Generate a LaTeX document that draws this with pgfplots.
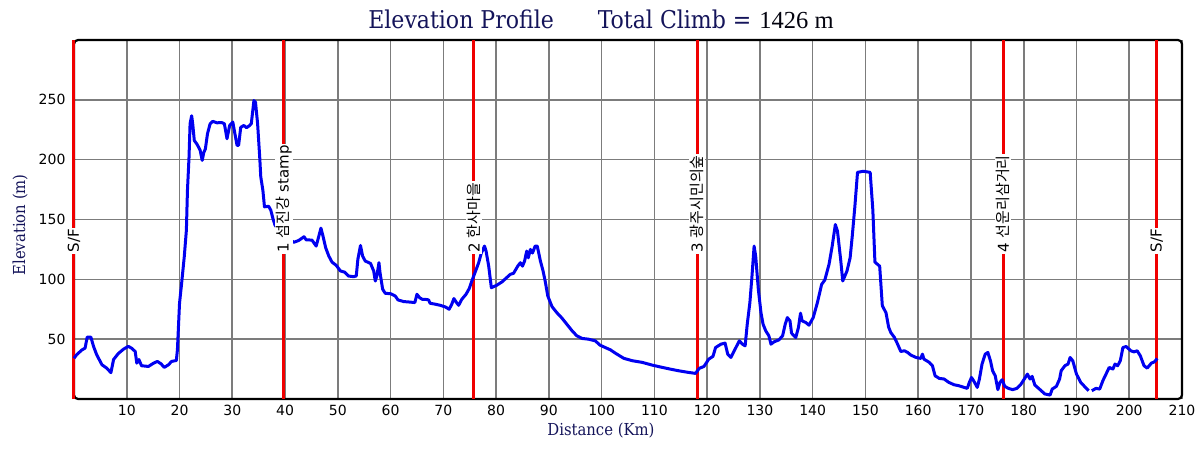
\documentclass[border=0pt]{standalone}
\usepackage{fontspec}
\usepackage{pgfplots}
\pgfplotsset{compat=1.18}
\setmainfont{DejaVu Sans}
\newfontfamily\titlefont{DejaVu Serif Condensed}
\newfontfamily\timesfont{Liberation Serif}
\newfontfamily\kr{Noto Sans CJK KR}
\definecolor{navy}{HTML}{14145A}
\definecolor{gridgray}{HTML}{7C7C7C}
\definecolor{curveblue}{HTML}{0000F0}
\definecolor{markred}{HTML}{F00000}

\pgfplotstableread{
km elev
0 34
0.5 37
1.5 41
2.1 42.5
2.5 51.7
3.2 51.7
3.7 44
4.3 37
5.3 28.6
6.2 25.8
7.0 22
7.5 33
8.4 38
9.4 41.7
10.3 44
10.9 42.5
11.6 39.7
11.9 30
12.3 33
12.8 27.8
14.1 27.2
15.1 30
15.8 31.4
16.5 29.4
17.1 26.4
17.9 28.6
18.5 31.4
19.4 32.2
19.6 41
20.0 80
20.4 96.7
20.9 119
21.3 141
21.5 174
21.8 202
22.0 230
22.3 236.7
22.5 230
22.8 216
23.3 213
23.9 208
24.3 199.4
24.6 206
24.9 209
25.3 221.7
25.8 230
26.3 232
27.1 230.8
28.0 231
28.5 230
29.0 217.5
29.5 228.6
30.1 231.4
30.4 224
30.9 212
31.2 212
31.6 227
32.2 228.6
32.7 226.7
33.3 228.6
33.6 230
34.1 249.4
34.4 248
34.8 230
35.2 202
35.4 185.6
35.8 174.4
36.1 160.6
36.9 161
37.3 157.8
37.7 150.8
38.1 145.3
39.0 140
40.5 134
41.7 131
42.6 132.5
43.6 135.6
44.0 133
45.1 132.8
45.9 127.8
46.4 136
46.8 142.8
47.2 136
47.7 126.4
48.3 119.4
48.9 114.4
49.7 111.7
50.5 107
51.3 106
52.0 102.8
53.0 102.2
53.5 102.8
53.8 116.7
54.3 128.3
54.7 119.4
55.2 115.3
56.2 113.3
56.8 107
57.1 98.6
57.4 102.8
57.8 113.9
58.0 105.6
58.5 91.7
59.0 88.3
60.0 88
60.9 86
61.4 82.8
62.5 81.4
63.4 81.1
64.6 80.6
65.0 87.5
65.5 84.7
66.0 83.3
66.6 83.3
67.2 82.8
67.5 80
68.5 79.2
69.4 78.3
70.4 76.9
71.1 75
71.6 79.2
72.0 83.9
72.5 80.6
72.9 78.3
73.5 83.3
74.3 87.5
74.9 92.2
75.4 98.6
76.0 105.6
76.7 113.9
77.2 122
77.8 127.8
78.1 123.6
78.6 111
79.1 93
80.1 95
81.1 97.8
82.0 101.4
82.7 104.2
83.3 105
84.1 111
84.6 113.9
85.0 111
85.4 115.3
85.8 123.6
86.1 118
86.5 125
86.9 122
87.4 127.8
87.8 127.8
88.4 115.3
88.9 107
89.3 98.6
89.8 86
90.6 77.2
91.5 72.2
92.5 67.5
93.4 62.5
94.4 57
95.3 52.8
96.3 50.6
97.5 50
98.8 48.6
99.7 45
100.7 43
101.7 41
102.6 38.3
104.2 34
105.8 32
107.7 30.6
109.6 28.3
111.5 26.4
113 25
114.6 23.6
116.5 22.2
117.8 21.4
118.5 25.6
119.4 27.2
120.3 33.3
121.1 35.6
121.6 43
122.6 45.8
123.4 46.7
123.9 37.5
124.5 34.7
125.3 41.7
126.1 48.6
126.7 45.8
127.2 44.4
127.6 62.5
128.1 80.6
128.5 102.8
128.9 127.8
129.2 119.4
129.7 91.7
130.2 72.2
130.6 62.5
131.1 57
131.7 52.8
132.1 45.8
132.7 47.8
133.6 49.4
134.3 52.8
134.8 62.5
135.2 68
135.7 65.3
136.0 55
136.8 51.4
137.3 59.7
137.7 71.7
138.0 65.3
138.7 63.9
139.3 61.7
140.1 68
140.9 80.6
141.7 95.8
142.3 99.4
143.1 112.5
143.7 127.8
144.3 145.8
144.7 140.3
145.3 116.7
145.7 98.6
146.5 106.9
147.1 118
147.5 136
148.0 161
148.5 189.4
149.6 190.3
150.9 189.4
151.4 158.3
151.8 114.4
152.7 111
153.2 78
153.9 72
154.4 60
154.8 55.6
155.5 51.4
156.1 45.8
156.7 39.7
157.4 40.3
158.0 38.9
158.6 36.7
159.6 34.7
160.5 33.9
160.8 37.5
161.1 33.3
162.1 30.6
162.7 27.8
163.2 19.4
164.0 17.2
164.9 16.7
165.8 13.9
166.8 11.9
167.7 11.1
168.7 9.7
169.3 8.9
169.7 13.9
170.1 18
170.5 15.3
171.2 9.7
171.6 16.7
172.1 29.2
172.7 37.5
173.2 38.9
173.7 31.9
174.1 23.6
174.6 19.4
175.1 7.8
175.5 13.9
175.9 16.1
176.4 10.6
177.1 8.9
177.9 7.8
178.7 8.9
179.5 12.5
180.3 18
180.7 20.8
181.2 16.7
181.6 18.9
182.1 11.7
183.1 7.8
184.0 4.2
185.0 3.3
185.4 8.3
186.2 10.6
186.8 16.7
187.1 23.6
187.8 27.8
188.4 29.2
188.8 34.7
189.3 31.9
190.0 20.8
190.8 13.9
191.5 10.6
192.3 6.9
192.6 nan
192.9 6.9
193.7 8.9
194.4 8.3
195.0 15.3
195.6 20.8
196.2 26.4
196.9 25
197.3 29.2
197.8 27.8
198.3 31.9
198.8 43
199.4 43.9
200.3 40.3
200.9 39.4
201.5 40.3
202.1 36.1
202.8 27.8
203.4 25.8
204.2 30
204.8 31.1
205.3 33.9
}\profile

\begin{document}
\begin{tikzpicture}
\useasboundingbox (-74pt,-51pt) rectangle (1126pt,399pt);
\begin{axis}[
  scale only axis, width=1108pt, height=359pt,
  xmin=0, xmax=210, ymin=0, ymax=300,
  xtick={10,20,...,210}, ytick={50,100,...,250},
  grid=major, major grid style={gridgray, line width=1.6pt},
  major tick length=0pt,
  axis line style={line width=2.2pt, rounded corners=4pt},
  tick label style={font=\fontsize{14}{16}\selectfont},
  yticklabel style={xshift=-5pt},
  xticklabel style={yshift=-3pt},
  /pgf/number format/assume math mode=true,
  /pgf/number format/1000 sep={},
  unbounded coords=jump,
  clip=false,
  title={{\titlefont Elevation Profile\hspace{44pt}Total Climb =\hspace{8pt}}{\timesfont\color{black!85!navy} 1426 m}},
  title style={at={(axis description cs:0.4756,1.042)}, anchor=center, font=\fontsize{24.5}{28}\selectfont, text=navy},
  xlabel={Distance (Km)},
  xlabel style={at={(axis description cs:0.4756,-0.0891)}, anchor=center, font=\titlefont\fontsize{16.5}{19}\selectfont, text=navy},
  ylabel={Elevation (m)},
  ylabel style={at={(axis description cs:-0.0487,0.485)}, anchor=center, font=\titlefont\fontsize{16.5}{19}\selectfont, text=navy},
]
\addplot[markred, line width=3pt] coordinates {(0,0) (0,300)};
\addplot[markred, line width=3pt] coordinates {(39.8,0) (39.8,300)};
\addplot[markred, line width=3pt] coordinates {(75.8,0) (75.8,300)};
\addplot[markred, line width=3pt] coordinates {(118.1,0) (118.1,300)};
\addplot[markred, line width=3pt] coordinates {(176.1,0) (176.1,300)};
\addplot[markred, line width=3pt] coordinates {(205.2,0) (205.2,300)};
\addplot[curveblue, line width=3pt, line join=round] table[x=km, y=elev] {\profile};
\tikzset{stn/.style={rotate=90, anchor=west, fill=white, inner sep=1.5pt, font=\fontsize{15}{17}\selectfont}}
\node[stn] at (axis cs:0,121) {S/F};
\node[stn] at (axis cs:39.8,121) {1 {\kr 섬진강} stamp};
\node[stn] at (axis cs:75.8,121) {2 {\kr 한사마을}};
\node[stn] at (axis cs:118.1,121) {3 {\kr 광주시민의숲}};
\node[stn] at (axis cs:176.1,121) {4 {\kr 선운리삼거리}};
\node[stn] at (axis cs:205.2,121) {S/F};
\end{axis}
\end{tikzpicture}
\end{document}
